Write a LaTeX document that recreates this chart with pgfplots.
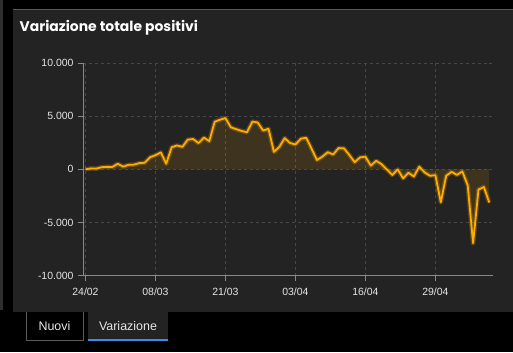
\documentclass[border=0pt]{standalone}
\usepackage{fontspec}
\setmainfont{Liberation Sans}
\newfontfamily\titlefont{Poppins}
\usepackage{pgfplots}
\pgfplotsset{compat=1.18}
\definecolor{panel}{HTML}{232323}
\definecolor{strip}{HTML}{2E2E2E}
\definecolor{gridc}{HTML}{474747}
\definecolor{axisc}{HTML}{8A8A8A}
\definecolor{labc}{HTML}{E6E6E6}
\definecolor{linec}{HTML}{FFAC00}
\definecolor{tabline}{HTML}{3A8EE6}
\definecolor{tabborder}{HTML}{5A5A5A}
\begin{document}
\begin{tikzpicture}[x=1bp,y=1bp]
\useasboundingbox (0,0) rectangle (513,352);
\fill[black] (0,0) rectangle (513,352);
\fill[strip] (0,42) rectangle (3,352);
\fill[panel] (13,40) rectangle (513,343);
\draw[line width=0.8bp, color=tabborder] (13,343) -- (513,343);
% tabs
\draw[line width=0.8bp, color=tabborder] (26,40) -- (26,12) -- (83,12) -- (83,40);
\node[font=\fontsize{12.5}{14}\selectfont, text=labc] at (54.5,25.5) {Nuovi};
\fill[panel] (88,12) rectangle (168,40);
\fill[tabline] (88,11) rectangle (168,13.5);
\node[font=\fontsize{12.5}{14}\selectfont, text=labc] at (128,25.5) {Variazione};
% title
\node[anchor=base west, font=\titlefont\bfseries\fontsize{14}{16}\selectfont, text=white, inner sep=0] at (19.5,321) {Variazione totale positivi};
\begin{axis}[
  at={(83bp,76.3bp)}, anchor=south west,
  scale only axis, width=410bp, height=212.7bp,
  xmin=-0.46, xmax=75.7,
  ymin=-10000, ymax=10000,
  axis lines=left,
  axis line style={-, color=axisc, line width=0.8bp},
  xtick={0,13,26,39,52,65},
  xticklabels={24/02,08/03,21/03,03/04,16/04,29/04},
  ytick={-10000,-5000,0,5000,10000},
  yticklabels={-10.000,-5.000,0,5.000,10.000},
  scaled y ticks=false,
  tick align=outside,
  major tick length=5bp,
  tick style={color=axisc, line width=0.8bp},
  xmajorgrids, ymajorgrids,
  grid style={dashed, color=gridc, line width=0.6bp},
  ticklabel style={font=\fontsize{10.5}{12}\selectfont, text=labc},
  yticklabel style={xshift=-1bp},
  xticklabel style={yshift=-4bp},
  clip=false,
]
\pgfplotstableread{
d v
0 0
1 90
2 74
3 203
4 233
5 228
6 528
7 258
8 428
9 443
10 590
11 620
12 1145
13 1326
14 1598
15 529
16 2076
17 2249
18 2116
19 2795
20 2853
21 2470
22 2989
23 2648
24 4480
25 4670
26 4821
27 3957
28 3780
29 3612
30 3491
31 4492
32 4401
33 3651
34 3815
35 1648
36 2107
37 2937
38 2477
39 2339
40 2886
41 2972
42 1941
43 880
44 1195
45 1615
46 1396
47 1996
48 1984
49 1363
50 675
51 1127
52 1189
53 355
54 809
55 486
56 -20
57 -528
58 -10
59 -851
60 -321
61 -680
62 256
63 -290
64 -608
65 -548
66 -3106
67 -608
68 -239
69 -525
70 -199
71 -1513
72 -6939
73 -1904
74 -1663
75 -3119
}\datatab
\addplot[draw=none, fill=linec, fill opacity=0.12] table[x=d,y=v] {\datatab} \closedcycle;
\addplot[color=linec, line width=4.5bp, opacity=0.25, line join=round] table[x=d,y=v] {\datatab};
\addplot[color=linec, line width=1.8bp, line join=round] table[x=d,y=v] {\datatab};
\end{axis}
\end{tikzpicture}
\end{document}
